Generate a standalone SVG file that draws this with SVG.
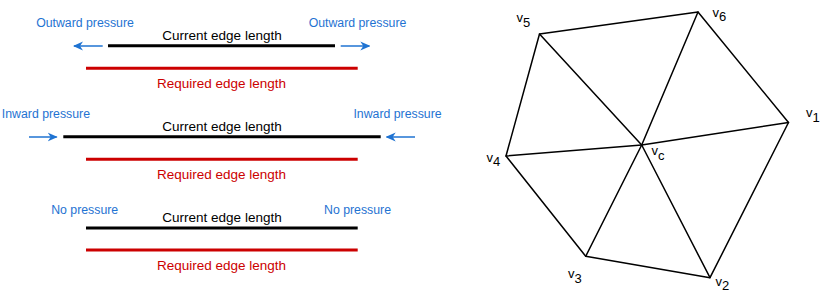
<svg xmlns="http://www.w3.org/2000/svg" width="831" height="300" viewBox="0 0 831 300">
<style>
  .bl { font-family: "Liberation Sans", Arial, sans-serif; font-size: 12.3px; fill: #1f73d2; text-anchor: middle; }
  .cur { font-family: "Liberation Sans", Arial, sans-serif; font-size: 13.5px; fill: #000; text-anchor: middle; }
  .req { font-family: "Liberation Sans", Arial, sans-serif; font-size: 13.5px; fill: #cc0000; text-anchor: middle; }
  .lab { font-family: "Liberation Sans", Arial, sans-serif; font-size: 13px; fill: #000; }
  .blk { stroke: #000; stroke-width: 3; }
  .red { stroke: #cc0000; stroke-width: 3; }
  .arr { stroke: #1f73d2; stroke-width: 1.5; marker-end: url(#ah); }
  .edge { stroke: #000; stroke-width: 1.5; fill: none; stroke-linecap: round; stroke-linejoin: round; }
</style>
<defs>
  <marker id="ah" markerUnits="userSpaceOnUse" markerWidth="10" markerHeight="10" viewBox="0 0 10 10" refX="9" refY="5" orient="auto">
    <path d="M0,0.5 L10,5 L0,9.5 L3,5 z" fill="#1f73d2"/>
  </marker>
</defs>
<rect width="831" height="300" fill="#fff"/>

<g id="row-outward">
  <text class="bl" x="85" y="27.3">Outward pressure</text>
  <text class="bl" x="357.5" y="27.3">Outward pressure</text>
  <text class="cur" x="222" y="39.5">Current edge length</text>
  <line class="blk" x1="108" y1="45.7" x2="335" y2="45.7"/>
  <line class="red" x1="86" y1="68.3" x2="357.7" y2="68.3"/>
  <text class="req" x="221.5" y="88">Required edge length</text>
</g>

<g id="row-inward">
  <text class="bl" x="45.9" y="118.3">Inward pressure</text>
  <text class="bl" x="397.5" y="118.3">Inward pressure</text>
  <text class="cur" x="222" y="130.5">Current edge length</text>
  <line class="blk" x1="63.3" y1="136.7" x2="380.7" y2="136.7"/>
  <line class="red" x1="86" y1="159.3" x2="357.7" y2="159.3"/>
  <text class="req" x="221.5" y="179.3">Required edge length</text>
</g>

<g id="row-none">
  <text class="bl" x="84.7" y="214.3">No pressure</text>
  <text class="bl" x="357.5" y="214.3">No pressure</text>
  <text class="cur" x="222" y="221.5">Current edge length</text>
  <line class="blk" x1="86" y1="228" x2="357.7" y2="228"/>
  <line class="red" x1="86" y1="250" x2="357.7" y2="250"/>
  <text class="req" x="221.5" y="270">Required edge length</text>
</g>

<g id="arrows">
  <line class="arr" x1="102.7" y1="46" x2="74" y2="46"/>
  <line class="arr" x1="340.7" y1="46" x2="369.3" y2="46"/>
  <line class="arr" x1="29" y1="137" x2="56.7" y2="137"/>
  <line class="arr" x1="415" y1="137" x2="386.7" y2="137"/>
</g>

<g id="connectors">
  <polygon class="edge" points="788.5,122.5 710,277.7 585.7,256.3 506,156 539.5,34 698,12"/>
  <line class="edge" x1="641.7" y1="145" x2="788.5" y2="122.5"/>
  <line class="edge" x1="641.7" y1="145" x2="710" y2="277.7"/>
  <line class="edge" x1="641.7" y1="145" x2="585.7" y2="256.3"/>
  <line class="edge" x1="641.7" y1="145" x2="506" y2="156"/>
  <line class="edge" x1="641.7" y1="145" x2="539.5" y2="34"/>
  <line class="edge" x1="641.7" y1="145" x2="698" y2="12"/>
</g>

<g id="v1"><text class="lab" x="806" y="117.3">v<tspan dy="4.4">1</tspan></text></g>
<g id="v2"><text class="lab" x="715.5" y="286">v<tspan dy="4">2</tspan></text></g>
<g id="v3"><text class="lab" x="568" y="278.3">v<tspan dy="5">3</tspan></text></g>
<g id="v4"><text class="lab" x="486.5" y="161.7">v<tspan dy="4.3">4</tspan></text></g>
<g id="v5"><text class="lab" x="516.5" y="21.5">v<tspan dy="5">5</tspan></text></g>
<g id="v6"><text class="lab" x="712.5" y="17">v<tspan dy="3.7">6</tspan></text></g>
<g id="vc"><text class="lab" x="651.5" y="155">v<tspan dy="5">c</tspan></text></g>
</svg>
